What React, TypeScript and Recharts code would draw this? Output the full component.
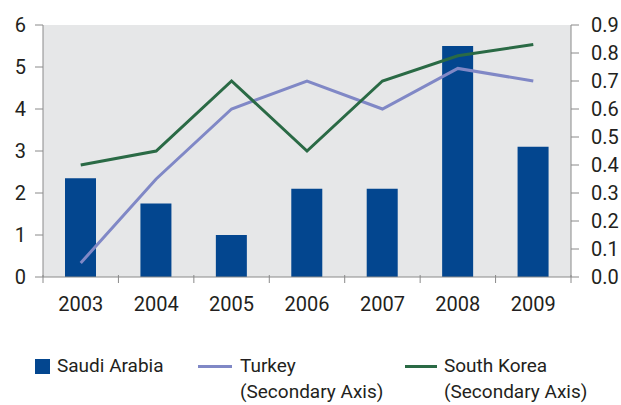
import React from "react";
import { ComposedChart, Bar, Line, XAxis, YAxis, CartesianGrid } from "recharts";

const years = ["2003", "2004", "2005", "2006", "2007", "2008", "2009"];
const saudiArabia = [2.35, 1.75, 1.0, 2.1, 2.1, 5.5, 3.1];
const turkey = [0.05, 0.35, 0.6, 0.7, 0.6, 0.745, 0.7];
const southKorea = [0.4, 0.45, 0.7, 0.45, 0.7, 0.79, 0.83];
const leftTicks = [0, 1, 2, 3, 4, 5, 6];
const rightTicks = [0, 0.1, 0.2, 0.3, 0.4, 0.5, 0.6, 0.7, 0.8, 0.9];

const data = years.map((y, i) => ({
  year: y,
  saudi: saudiArabia[i],
  turkey: turkey[i],
  korea: southKorea[i],
}));

const FONT = "Roboto, 'Open Sans', sans-serif";
const TEXT = "#231f20";
const AXIS = "#8a8a8a";
const BAR = "#03468f";
const TURKEY = "#8088c6";
const KOREA = "#2a6a45";
const BG = "#e6e7e8";

const XTick = (props: any) => {
  const { x, y, payload, index } = props;
  const half = payload && payload.offset ? payload.offset : 528 / 14;
  const axisY = y - 10;
  return (
    <g>
      <line x1={x - half} x2={x - half} y1={axisY} y2={axisY + 8} stroke={AXIS} strokeWidth={1} />
      {index === years.length - 1 && (
        <line x1={x + half} x2={x + half} y1={axisY} y2={axisY + 8} stroke={AXIS} strokeWidth={1} />
      )}
      <text x={x} y={y} dy={26} textAnchor="middle" fill={TEXT} fontSize={20} fontFamily={FONT}>
        {payload.value}
      </text>
    </g>
  );
};

export default function App() {
  const legendText: React.CSSProperties = {
    position: "absolute",
    fontFamily: FONT,
    fontSize: 19,
    lineHeight: "26px",
    color: TEXT,
    whiteSpace: "nowrap",
  };
  return (
    <div style={{ position: "absolute", left: 0, top: 0, width: 621, height: 405, background: "#fff" }}>
      <ComposedChart
        width={621}
        height={405}
        data={data}
        margin={{ top: 25, right: 0, left: 0, bottom: 88 }}
      >
        <CartesianGrid fill={BG} stroke="none" horizontal={false} vertical={false} yAxisId="left" />
        <XAxis
          dataKey="year"
          height={40}
          tickLine={false}
          axisLine={{ stroke: AXIS }}
          tick={<XTick />}
          interval={0}
        />
        <YAxis
          yAxisId="left"
          orientation="left"
          width={43}
          domain={[0, 6]}
          ticks={leftTicks}
          tickSize={8}
          tickMargin={9}
          axisLine={{ stroke: AXIS }}
          tickLine={{ stroke: AXIS }}
          tick={{ fill: TEXT, fontSize: 20, fontFamily: FONT }}
          interval={0}
        />
        <YAxis
          yAxisId="right"
          orientation="right"
          width={50}
          domain={[0, 0.9]}
          ticks={rightTicks}
          tickFormatter={(v: number) => v.toFixed(1)}
          tickSize={8}
          tickMargin={12}
          axisLine={{ stroke: AXIS }}
          tickLine={{ stroke: AXIS }}
          tick={{ fill: TEXT, fontSize: 20, fontFamily: FONT }}
          interval={0}
        />
        <Bar yAxisId="left" dataKey="saudi" fill={BAR} barSize={31} isAnimationActive={false} />
        <Line
          yAxisId="right"
          dataKey="turkey"
          stroke={TURKEY}
          strokeWidth={3}
          dot={false}
          activeDot={false}
          type="linear"
          isAnimationActive={false}
        />
        <Line
          yAxisId="right"
          dataKey="korea"
          stroke={KOREA}
          strokeWidth={3}
          dot={false}
          activeDot={false}
          type="linear"
          isAnimationActive={false}
        />
      </ComposedChart>
      <div style={{ position: "absolute", left: 35, top: 359, width: 15, height: 15, background: BAR }} />
      <div style={{ ...legendText, left: 57, top: 353 }}>Saudi Arabia</div>
      <div style={{ position: "absolute", left: 198, top: 365, width: 34, height: 3, background: TURKEY }} />
      <div style={{ ...legendText, left: 240, top: 353 }}>
        Turkey
        <br />
        (Secondary Axis)
      </div>
      <div style={{ position: "absolute", left: 405, top: 365, width: 32, height: 3, background: KOREA }} />
      <div style={{ ...legendText, left: 444, top: 353 }}>
        South Korea
        <br />
        (Secondary Axis)
      </div>
    </div>
  );
}
